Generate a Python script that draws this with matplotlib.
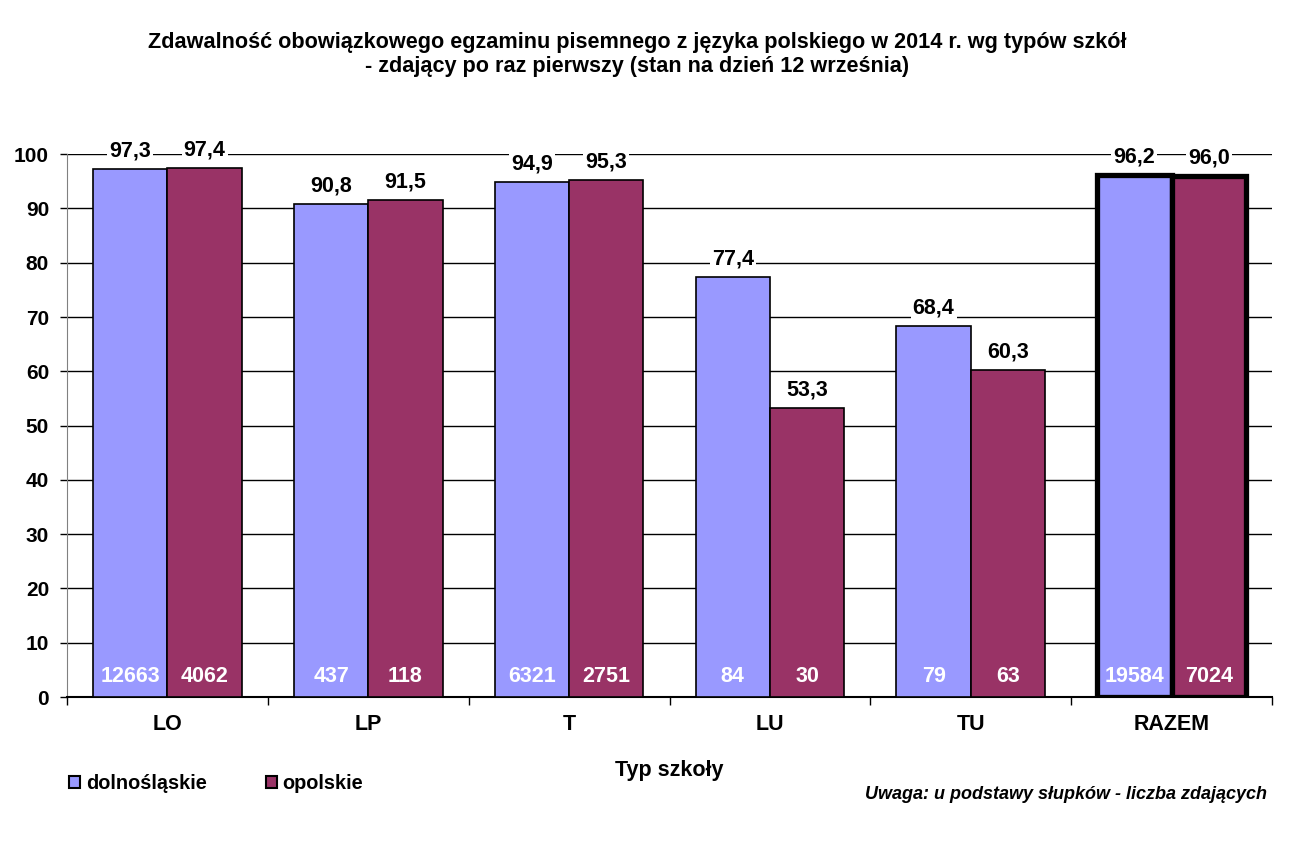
import matplotlib.pyplot as plt
import numpy as np

categories = ["LO", "LP", "T", "LU", "TU", "RAZEM"]
dolnoslaskie = [97.3, 90.8, 94.9, 77.4, 68.4, 96.2]
opolskie = [97.4, 91.5, 95.3, 53.3, 60.3, 96.0]
count_dol = [12663, 437, 6321, 84, 79, 19584]
count_opo = [4062, 118, 2751, 30, 63, 7024]
series_names = ["dolnośląskie", "opolskie"]
colors = ["#9999FF", "#993366"]


def main():
    plt.rcParams['font.family'] = ['Liberation Sans', 'DejaVu Sans']
    plt.rcParams['font.weight'] = 'bold'
    fig = plt.figure(figsize=(12.9, 8.49), dpi=100)
    ax = fig.add_axes([0.052, 0.179, 0.934, 0.6394])

    x = np.arange(len(categories))
    w = 0.37
    for i, (vals, counts) in enumerate([(dolnoslaskie, count_dol),
                                        (opolskie, count_opo)]):
        pos = x - w / 2 + i * w
        lws = [3.8 if c == "RAZEM" else 1.2 for c in categories]
        bars = ax.bar(pos, vals, w, color=colors[i], edgecolor="black",
                      linewidth=lws, zorder=3, label=series_names[i])
        for b, v, n in zip(bars, vals, counts):
            ax.annotate(f"{v:.1f}".replace(".", ","),
                        (b.get_x() + b.get_width() / 2, v),
                        xytext=(0, 13), textcoords="offset points",
                        ha="center", va="center", fontsize=15.5,
                        fontweight="bold", zorder=5,
                        bbox=dict(facecolor="white", edgecolor="none",
                                  pad=1.5))
            ax.text(b.get_x() + b.get_width() / 2, 3.7, str(n),
                    ha="center", va="center", color="white", fontsize=15.5,
                    fontweight="bold", zorder=5)

    ax.set_xlim(-0.5, len(categories) - 0.5)
    ax.set_ylim(0, 100)
    ax.set_yticks(np.arange(0, 101, 10))
    ax.yaxis.grid(True, color="black", linewidth=1.0, zorder=0)
    ax.set_axisbelow(True)
    ax.tick_params(axis="y", labelsize=15, length=5, width=1, pad=8)
    ax.set_xticks(x)
    ax.set_xticklabels(categories)
    ax.set_xticks(np.arange(-0.5, len(categories)), minor=True)
    ax.tick_params(axis="x", which="major", length=0, labelsize=15.5, pad=12)
    ax.tick_params(axis="x", which="minor", length=6, width=1)
    for s in ["top", "right"]:
        ax.spines[s].set_visible(False)
    ax.spines["left"].set_color("gray")
    ax.spines["bottom"].set_linewidth(1.5)
    ax.set_xlabel("Typ szkoły", fontsize=15.5, fontweight="bold", labelpad=18)

    fig.suptitle("Zdawalność obowiązkowego egzaminu pisemnego z języka "
                 "polskiego w 2014 r. wg typów szkół\n- zdający po raz "
                 "pierwszy (stan na dzień 12 września)",
                 x=0.494, y=0.962, fontsize=15.6, fontweight="bold",
                 linespacing=1.2)

    leg = fig.legend(loc="lower left", bbox_to_anchor=(0.040, 0.045),
                     ncol=2, frameon=False, fontsize=14.3, handlelength=0.55,
                     handleheight=0.55, handletextpad=0.3, columnspacing=2.95)
    for h in leg.legend_handles:
        h.set_linewidth(1.5)
    fig.text(0.982, 0.064, "Uwaga: u podstawy słupków - liczba zdających",
             ha="right", va="center", fontsize=13, style="italic",
             fontweight="bold")

    fig.savefig("out.png", dpi=100)


if __name__ == "__main__":
    main()
